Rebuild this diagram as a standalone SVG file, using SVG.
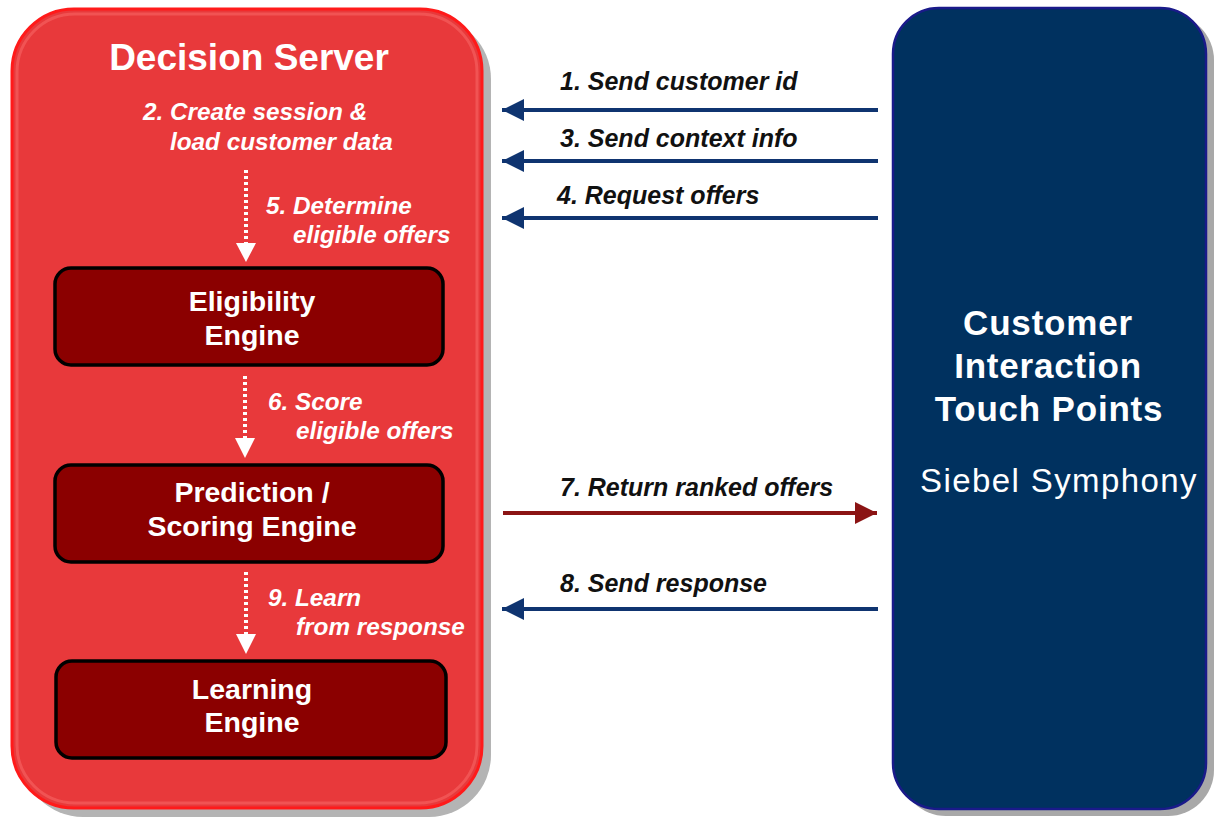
<svg xmlns="http://www.w3.org/2000/svg" width="1218" height="820" viewBox="0 0 1218 820">
  <defs>
    <style>
      .title { font-family: "Liberation Sans", Arial, sans-serif; font-weight: bold; fill: #ffffff; text-anchor: middle; }
      .engine { font-family: "Liberation Sans", Arial, sans-serif; font-weight: bold; font-size: 28.5px; fill: #ffffff; text-anchor: middle; }
      .step { font-family: "Liberation Sans", Arial, sans-serif; font-weight: bold; font-style: italic; font-size: 24.3px; fill: #ffffff; }
      .msg { font-family: "Liberation Sans", Arial, sans-serif; font-weight: bold; font-style: italic; font-size: 25px; fill: #111111; }
      .engine-box { fill: #8b0000; stroke: #000000; stroke-width: 3.5; }
      .dotted { stroke: #ffffff; stroke-width: 4; stroke-dasharray: 3 3; fill: none; }
      .blue-line { stroke: #0f3470; stroke-width: 4; fill: none; }
      .red-line { stroke: #8b1414; stroke-width: 4; fill: none; }
    </style>
    <marker id="headBlue" viewBox="0 0 10 10" refX="10" refY="5" markerWidth="5.5" markerHeight="5.5" markerUnits="strokeWidth" orient="auto">
      <path d="M0,0 L10,5 L0,10 z" fill="#0f3470"/>
    </marker>
    <marker id="headRed" viewBox="0 0 10 10" refX="10" refY="5" markerWidth="5.5" markerHeight="5.5" markerUnits="strokeWidth" orient="auto">
      <path d="M0,0 L10,5 L0,10 z" fill="#8b1414"/>
    </marker>
  </defs>

  <rect width="1218" height="820" fill="#ffffff"/>

  <!-- Decision Server container -->
  <g id="decision-server">
    <rect x="21" y="17" width="470" height="800" rx="62" ry="62" fill="#b4b4b4"/>
    <rect x="12" y="9" width="470" height="799" rx="62" ry="62" fill="#e8393b" stroke="#ff1a1a" stroke-width="3"/>
    <rect x="17" y="14" width="460" height="789" rx="58" ry="58" fill="none" stroke="#f25a5a" stroke-width="3" opacity="0.8"/>
    <text class="title" x="249" y="70" font-size="37">Decision Server</text>
    <text class="step" x="143" y="120">2. Create session &amp;</text>
    <text class="step" x="170" y="150">load customer data</text>
    <text class="step" x="266" y="214">5. Determine</text>
    <text class="step" x="293" y="243">eligible offers</text>
    <text class="step" x="268" y="410">6. Score</text>
    <text class="step" x="296" y="439">eligible offers</text>
    <text class="step" x="268" y="606">9. Learn</text>
    <text class="step" x="296" y="635">from response</text>
  </g>

  <g id="eligibility-engine">
    <rect class="engine-box" x="55" y="268" width="388" height="97" rx="16" ry="16"/>
    <text class="engine" x="252" y="311">Eligibility</text>
    <text class="engine" x="252" y="345">Engine</text>
  </g>

  <g id="prediction-engine">
    <rect class="engine-box" x="55" y="465" width="388" height="97" rx="16" ry="16"/>
    <text class="engine" x="252" y="502">Prediction /</text>
    <text class="engine" x="252" y="536">Scoring Engine</text>
  </g>

  <g id="learning-engine">
    <rect class="engine-box" x="56" y="661" width="390" height="97" rx="16" ry="16"/>
    <text class="engine" x="252" y="699">Learning</text>
    <text class="engine" x="252" y="732">Engine</text>
  </g>

  <!-- Customer Interaction Touch Points container -->
  <g id="touch-points">
    <rect x="900" y="14" width="314" height="802" rx="46" ry="46" fill="#a8a8a8"/>
    <rect x="893" y="8" width="313" height="801" rx="46" ry="46" fill="#00315f" stroke="#1a1a8a" stroke-width="2.5"/>
    <text class="title" x="1048" y="335" font-size="35" letter-spacing="0.8">Customer</text>
    <text class="title" x="1048" y="378" font-size="35" letter-spacing="0.8">Interaction</text>
    <text class="title" x="1049" y="421" font-size="35" letter-spacing="0.8">Touch Points</text>
    <text x="1059" y="492" font-family="'Liberation Sans', Arial, sans-serif" font-size="33" fill="#ffffff" text-anchor="middle" letter-spacing="1.4">Siebel Symphony</text>
  </g>

  <!-- Connectors -->
  <g id="connectors">
    <!-- internal flow inside the Decision Server -->
    <line class="dotted" x1="246" y1="170" x2="246" y2="244"/>
    <path d="M236,243 L256,243 L246,262 z" fill="#ffffff"/>
    <line class="dotted" x1="245" y1="376" x2="245" y2="439"/>
    <path d="M235,438 L255,438 L245,458 z" fill="#ffffff"/>
    <line class="dotted" x1="246" y1="572" x2="246" y2="635"/>
    <path d="M236,634 L256,634 L246,654 z" fill="#ffffff"/>

    <!-- messages between touch points and server -->
    <line class="blue-line" x1="878" y1="110" x2="502" y2="110" marker-end="url(#headBlue)"/>
    <line class="blue-line" x1="878" y1="161" x2="502" y2="161" marker-end="url(#headBlue)"/>
    <line class="blue-line" x1="878" y1="218" x2="502" y2="218" marker-end="url(#headBlue)"/>
    <line class="red-line" x1="503" y1="513" x2="877" y2="513" marker-end="url(#headRed)"/>
    <line class="blue-line" x1="878" y1="609" x2="502" y2="609" marker-end="url(#headBlue)"/>

    <text class="msg" x="560" y="90">1. Send customer id</text>
    <text class="msg" x="560" y="147">3. Send context info</text>
    <text class="msg" x="557" y="204">4. Request offers</text>
    <text class="msg" x="560" y="496">7. Return ranked offers</text>
    <text class="msg" x="560" y="592">8. Send response</text>
  </g>
</svg>
